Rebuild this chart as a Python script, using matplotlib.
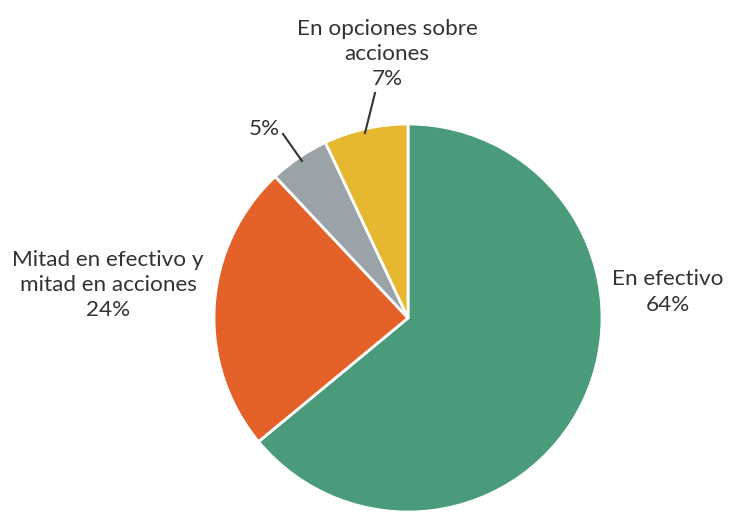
import matplotlib.pyplot as plt

# composición de la remuneración
labels = ['En efectivo', 'Mitad en efectivo y\nmitad en acciones', '', 'En opciones sobre\nacciones']
values = [64, 24, 5, 7]
colors = ['#4a9b7a', '#e4622a', '#9aa3a8', '#e6b830']

plt.rcParams['font.family'] = ['Lato', 'DejaVu Sans']

fig = plt.figure(figsize=(7.31, 5.12), dpi=100)
ax = fig.add_axes([0, 0, 1, 1])

W, H = 731, 512
cx, cy, r = 408, H - 318, 194

ax.pie(values, colors=colors, startangle=90, counterclock=False,
       center=(cx, cy), radius=r,
       wedgeprops=dict(edgecolor='white', linewidth=2))

ax.set_xlim(0, W)
ax.set_ylim(0, H)
ax.set_aspect('equal')
ax.axis('off')

txt = dict(ha='center', va='center', fontsize=16.2, color='#333333', linespacing=1.32)

# etiquetas (posición en píxeles, y desde arriba)
ax.text(668, H - 292, f'{labels[0]}\n{values[0]}%', **txt)
ax.text(108, H - 285, f'{labels[1]}\n{values[1]}%', **txt)
ax.text(264, H - 129, f'{values[2]}%', **txt)
ax.text(387, H - 54, f'{labels[3]}\n{values[3]}%', **txt)

# líneas guía
ax.plot([283, 302], [H - 134, H - 161], color='#333333', lw=1.5)
ax.plot([375, 365], [H - 93, H - 133], color='#333333', lw=1.5)

fig.savefig('out.png', dpi=100)
